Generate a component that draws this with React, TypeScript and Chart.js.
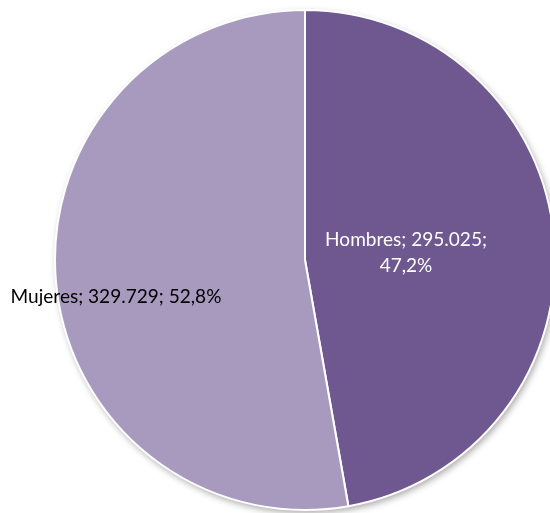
import React, { useEffect, useRef } from "react";
import { Chart, registerables } from "chart.js";

Chart.register(...registerables);

const categories: string[] = ["Hombres", "Mujeres"];
const values: number[] = [295025, 329729];
const percentLabels: string[] = ["47,2%", "52,8%"];
const valueLabels: string[] = ["295.025", "329.729"];
const colors: string[] = ["#6F5790", "#A89ABE"];

const FONT = "Lato";

const labelPlugin = {
  id: "sliceLabels",
  beforeDatasetsDraw(chart: any) {
    const meta = chart.getDatasetMeta(0);
    const arc = meta.data[0];
    if (!arc) return;
    const { x, y, outerRadius } = arc.getProps(["x", "y", "outerRadius"], true);
    const ctx = chart.ctx;
    ctx.save();
    ctx.shadowColor = "rgba(0,0,0,0.35)";
    ctx.shadowBlur = 7;
    ctx.shadowOffsetX = 2;
    ctx.shadowOffsetY = 3;
    ctx.fillStyle = "#ffffff";
    ctx.beginPath();
    ctx.arc(x, y, outerRadius, 0, Math.PI * 2);
    ctx.fill();
    ctx.restore();
  },
  afterDatasetsDraw(chart: any) {
    const ctx = chart.ctx;
    const meta = chart.getDatasetMeta(0);
    const arc = meta.data[0];
    if (!arc) return;
    const { x, y } = arc.getProps(["x", "y"], true);
    // fit font so the long label matches the target width
    const longText = `${categories[1]}; ${valueLabels[1]}; ${percentLabels[1]}`;
    let size = 17;
    ctx.save();
    ctx.font = `${size}px ${FONT}`;
    const w = ctx.measureText(longText).width;
    size = size * (211 / w);
    ctx.font = `${size}px ${FONT}`;
    ctx.textAlign = "center";
    ctx.textBaseline = "middle";
    // Hombres
    ctx.fillStyle = "#ffffff";
    ctx.fillText(`${categories[0]}; ${valueLabels[0]};`, x + 101, y - 20);
    ctx.fillText(percentLabels[0], x + 101, y + 6);
    // Mujeres
    ctx.fillStyle = "#000000";
    ctx.fillText(longText, x - 189, y + 37);
    ctx.restore();
  },
};

export default function App() {
  const ref = useRef<HTMLCanvasElement | null>(null);
  useEffect(() => {
    if (!ref.current) return;
    const chart = new Chart(ref.current, {
      type: "pie",
      data: {
        labels: categories,
        datasets: [
          {
            data: values,
            backgroundColor: colors,
            borderColor: "#ffffff",
            borderWidth: 2,
            hoverBorderWidth: 2,
            hoverOffset: 0,
            radius: 250,
          } as any,
        ],
      },
      options: {
        responsive: false,
        animation: false,
        layout: { padding: { top: 10, bottom: 3, left: 0, right: 0 } },
        plugins: {
          legend: { display: false },
          tooltip: { enabled: false },
        },
      },
      plugins: [labelPlugin],
    });
    return () => chart.destroy();
  }, []);
  return (
    <div
      style={{
        position: "fixed",
        left: 0,
        top: 0,
        width: 550,
        height: 513,
        overflow: "hidden",
        background: "#ffffff",
      }}
    >
      <canvas
        ref={ref}
        width={610}
        height={513}
        style={{ position: "absolute", left: 0, top: 0, width: 610, height: 513 }}
      />
    </div>
  );
}
